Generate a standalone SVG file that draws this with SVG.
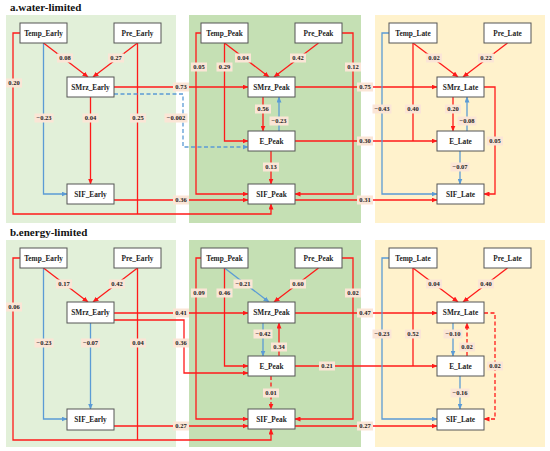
<svg xmlns="http://www.w3.org/2000/svg" width="550" height="451" viewBox="0 0 550 451">
<style>
.title{font-family:"Liberation Serif",serif;font-weight:bold;font-size:11px;fill:#111}
.node rect{fill:#fff;stroke:#555;stroke-width:1}
.node text{font-family:"Liberation Serif",serif;font-weight:bold;font-size:7.3px;fill:#222;text-anchor:middle}
.r{fill:none;stroke:#ff1a1a;stroke-width:1.3}
.b{fill:none;stroke:#5b9bd5;stroke-width:1.3}
.dash{stroke-dasharray:4 2.5}
.ra{marker-end:url(#ar)}
.ba{marker-end:url(#ab)}
.lb rect{fill:#fbe5d6}
.lb text{font-family:"Liberation Serif",serif;font-weight:bold;font-size:6.5px;fill:#222;text-anchor:middle}
</style>
<defs>
<marker id="ar" markerUnits="userSpaceOnUse" markerWidth="6" markerHeight="5" refX="5.5" refY="2.5" orient="auto"><path d="M0,0 L6,2.5 L0,5 z" fill="#ff1a1a"/></marker>
<marker id="ab" markerUnits="userSpaceOnUse" markerWidth="6" markerHeight="5" refX="5.5" refY="2.5" orient="auto"><path d="M0,0 L6,2.5 L0,5 z" fill="#5b9bd5"/></marker>
</defs>
<rect width="550" height="451" fill="#fff"/>
<g id="panels">
<rect x="6" y="15" width="170" height="208" fill="#e2f0d9"/>
<rect x="189" y="15" width="172" height="208" fill="#c5e0b4"/>
<rect x="375" y="15" width="170" height="208" fill="#fff2cc"/>
<rect x="6" y="240" width="170" height="207" fill="#e2f0d9"/>
<rect x="189" y="240" width="172" height="207" fill="#c5e0b4"/>
<rect x="375" y="240" width="170" height="207" fill="#fff2cc"/>
</g>
<text class="title" x="10" y="11">a.water-limited</text>
<text class="title" x="10" y="236">b.energy-limited</text>
<g id="connectors">
<path class="r ra" d="M20,33 H13 V214 H271 V204"/>
<path class="r" d="M137.5,43 V214"/>
<path class="b ba" d="M43.5,43 V194 H67"/>
<path class="r ra" d="M90.5,97 V184"/>
<path class="r ra" d="M43.5,43 L88,77"/>
<path class="r ra" d="M137.5,43 L93,77"/>
<path class="r ra" d="M114,87 H248"/>
<path class="b ba dash" d="M114,94 H183 V147 H248"/>
<path class="r ra" d="M114,200 H248"/>
<path class="r ra" d="M201,33 H196 V194 H248"/>
<path class="r ra" d="M224.5,43 V141 H248"/>
<path class="r ra" d="M224.5,43 L269,77"/>
<path class="r ra" d="M318.5,43 L274,77"/>
<path class="r ra" d="M342,33 H353 V194 H295"/>
<path class="r ra" d="M263,97 V131"/>
<path class="b ba" d="M279,131 V97"/>
<path class="r ra" d="M271,151 V184"/>
<path class="r ra" d="M295,87 H437"/>
<path class="r ra" d="M295,141 H437"/>
<path class="r ra" d="M295,200 H437"/>
<path class="b ba" d="M389,33 H382 V194 H437"/>
<path class="r" d="M413,43 V141"/>
<path class="r ra" d="M413,43 L458,77"/>
<path class="r ra" d="M507.5,43 L463,77"/>
<path class="r ra" d="M453,97 V131"/>
<path class="b ba" d="M467,131 V97"/>
<path class="r ra" d="M484,87 H495 V194 H484"/>
<path class="b ba" d="M460,151 V184"/>
<path class="r ra" d="M20,258 H13 V440 H271 V429"/>
<path class="r" d="M137.5,268 V440"/>
<path class="b ba" d="M43.5,268 V419 H67"/>
<path class="b ba" d="M90.5,323 V409"/>
<path class="r ra" d="M43.5,268 L88,302"/>
<path class="r ra" d="M137.5,268 L93,302"/>
<path class="r ra" d="M114,313 H248"/>
<path class="r ra" d="M114,320 H184 V373 H248"/>
<path class="r ra" d="M114,426 H248"/>
<path class="r ra" d="M201,258 H196 V419 H248"/>
<path class="r ra" d="M224.5,268 V366 H248"/>
<path class="b ba" d="M224.5,268 L269,302"/>
<path class="r ra" d="M318.5,268 L274,302"/>
<path class="r ra" d="M342,258 H353 V419 H295"/>
<path class="b ba" d="M263,323 V356"/>
<path class="r ra" d="M279,356 V323"/>
<path class="r ra dash" d="M271,376 V409"/>
<path class="r ra" d="M295,313 H437"/>
<path class="r ra" d="M295,366 H437"/>
<path class="r ra" d="M295,426 H437"/>
<path class="b ba" d="M389,258 H382 V419 H437"/>
<path class="r" d="M413,268 V366"/>
<path class="r ra" d="M413,268 L458,302"/>
<path class="r ra" d="M507.5,268 L463,302"/>
<path class="b ba" d="M453,323 V356"/>
<path class="r ra dash" d="M467,356 V323"/>
<path class="r ra dash" d="M484,313 H495 V419 H484"/>
<path class="b ba" d="M460,376 V409"/>
</g>
<g id="labels" class="lb">
<rect x="6" y="78.5" width="16" height="9"/><text x="14" y="85.3">0.20</text>
<rect x="34.5" y="113.5" width="19" height="9"/><text x="44" y="120.3">−0.23</text>
<rect x="82.5" y="113.5" width="16" height="9"/><text x="90.5" y="120.3">0.04</text>
<rect x="130" y="113.5" width="16" height="9"/><text x="138" y="120.3">0.25</text>
<rect x="57" y="53.5" width="16" height="9"/><text x="65" y="60.3">0.08</text>
<rect x="108" y="53.5" width="16" height="9"/><text x="116" y="60.3">0.27</text>
<rect x="173" y="82.5" width="16" height="9"/><text x="181" y="89.3">0.73</text>
<rect x="164.5" y="113.5" width="23" height="9"/><text x="176" y="120.3">−0.002</text>
<rect x="173" y="195.5" width="16" height="9"/><text x="181" y="202.3">0.36</text>
<rect x="191" y="62.5" width="16" height="9"/><text x="199" y="69.3">0.05</text>
<rect x="216.5" y="62.5" width="16" height="9"/><text x="224.5" y="69.3">0.29</text>
<rect x="235" y="53.5" width="16" height="9"/><text x="243" y="60.3">0.04</text>
<rect x="290" y="53.5" width="16" height="9"/><text x="298" y="60.3">0.42</text>
<rect x="345" y="62.5" width="16" height="9"/><text x="353" y="69.3">0.12</text>
<rect x="255" y="104.5" width="16" height="9"/><text x="263" y="111.3">0.56</text>
<rect x="269.5" y="116.5" width="19" height="9"/><text x="279" y="123.3">−0.23</text>
<rect x="263" y="162.5" width="16" height="9"/><text x="271" y="169.3">0.13</text>
<rect x="357" y="82.5" width="16" height="9"/><text x="365" y="89.3">0.75</text>
<rect x="357" y="136.5" width="16" height="9"/><text x="365" y="143.3">0.30</text>
<rect x="357" y="195.5" width="16" height="9"/><text x="365" y="202.3">0.31</text>
<rect x="372.5" y="104.5" width="19" height="9"/><text x="382" y="111.3">−0.43</text>
<rect x="405" y="104.5" width="16" height="9"/><text x="413" y="111.3">0.40</text>
<rect x="426" y="53.5" width="16" height="9"/><text x="434" y="60.3">0.02</text>
<rect x="478" y="53.5" width="16" height="9"/><text x="486" y="60.3">0.22</text>
<rect x="445" y="104.5" width="16" height="9"/><text x="453" y="111.3">0.20</text>
<rect x="457.5" y="116.5" width="19" height="9"/><text x="467" y="123.3">−0.08</text>
<rect x="487" y="136.5" width="16" height="9"/><text x="495" y="143.3">0.05</text>
<rect x="450.5" y="162.5" width="19" height="9"/><text x="460" y="169.3">−0.07</text>
<rect x="6" y="302.5" width="16" height="9"/><text x="14" y="309.3">0.06</text>
<rect x="34.5" y="338.5" width="19" height="9"/><text x="44" y="345.3">−0.23</text>
<rect x="81" y="338.5" width="19" height="9"/><text x="90.5" y="345.3">−0.07</text>
<rect x="130" y="338.5" width="16" height="9"/><text x="138" y="345.3">0.04</text>
<rect x="56" y="279.5" width="16" height="9"/><text x="64" y="286.3">0.17</text>
<rect x="109" y="279.5" width="16" height="9"/><text x="117" y="286.3">0.42</text>
<rect x="173" y="308.5" width="16" height="9"/><text x="181" y="315.3">0.41</text>
<rect x="173" y="338.5" width="16" height="9"/><text x="181" y="345.3">0.36</text>
<rect x="173" y="421.5" width="16" height="9"/><text x="181" y="428.3">0.27</text>
<rect x="191" y="288.5" width="16" height="9"/><text x="199" y="295.3">0.09</text>
<rect x="216.5" y="288.5" width="16" height="9"/><text x="224.5" y="295.3">0.46</text>
<rect x="233.5" y="279.5" width="19" height="9"/><text x="243" y="286.3">−0.21</text>
<rect x="290" y="279.5" width="16" height="9"/><text x="298" y="286.3">0.60</text>
<rect x="345" y="288.5" width="16" height="9"/><text x="353" y="295.3">0.02</text>
<rect x="253.5" y="329.5" width="19" height="9"/><text x="263" y="336.3">−0.42</text>
<rect x="271" y="342.5" width="16" height="9"/><text x="279" y="349.3">0.34</text>
<rect x="263" y="388.5" width="16" height="9"/><text x="271" y="395.3">0.01</text>
<rect x="319" y="361.5" width="16" height="9"/><text x="327" y="368.3">0.21</text>
<rect x="357" y="308.5" width="16" height="9"/><text x="365" y="315.3">0.47</text>
<rect x="357" y="421.5" width="16" height="9"/><text x="365" y="428.3">0.27</text>
<rect x="372.5" y="329.5" width="19" height="9"/><text x="382" y="336.3">−0.23</text>
<rect x="405" y="329.5" width="16" height="9"/><text x="413" y="336.3">0.52</text>
<rect x="426" y="279.5" width="16" height="9"/><text x="434" y="286.3">0.04</text>
<rect x="478" y="279.5" width="16" height="9"/><text x="486" y="286.3">0.40</text>
<rect x="443.5" y="329.5" width="19" height="9"/><text x="453" y="336.3">−0.10</text>
<rect x="459" y="342.5" width="16" height="9"/><text x="467" y="349.3">0.02</text>
<rect x="487" y="361.5" width="16" height="9"/><text x="495" y="368.3">0.02</text>
<rect x="450.5" y="388.5" width="19" height="9"/><text x="460" y="395.3">−0.16</text>
</g>
<g id="a_Temp_Early" class="node"><rect x="20" y="23" width="47" height="20"/><text x="43.5" y="35.5">Temp_Early</text></g>
<g id="a_Pre_Early" class="node"><rect x="114" y="23" width="47" height="20"/><text x="137.5" y="35.5">Pre_Early</text></g>
<g id="a_SMrz_Early" class="node"><rect x="67" y="77" width="47" height="20"/><text x="90.5" y="89.5">SMrz_Early</text></g>
<g id="a_SIF_Early" class="node"><rect x="67" y="184" width="47" height="20"/><text x="90.5" y="196.5">SIF_Early</text></g>
<g id="a_Temp_Peak" class="node"><rect x="201" y="23" width="47" height="20"/><text x="224.5" y="35.5">Temp_Peak</text></g>
<g id="a_Pre_Peak" class="node"><rect x="295" y="23" width="47" height="20"/><text x="318.5" y="35.5">Pre_Peak</text></g>
<g id="a_SMrz_Peak" class="node"><rect x="248" y="77" width="47" height="20"/><text x="271.5" y="89.5">SMrz_Peak</text></g>
<g id="a_E_Peak" class="node"><rect x="248" y="131" width="47" height="20"/><text x="271.5" y="143.5">E_Peak</text></g>
<g id="a_SIF_Peak" class="node"><rect x="248" y="184" width="47" height="20"/><text x="271.5" y="196.5">SIF_Peak</text></g>
<g id="a_Temp_Late" class="node"><rect x="389" y="23" width="48" height="20"/><text x="413" y="35.5">Temp_Late</text></g>
<g id="a_Pre_Late" class="node"><rect x="484" y="23" width="47" height="20"/><text x="507.5" y="35.5">Pre_Late</text></g>
<g id="a_SMrz_Late" class="node"><rect x="437" y="77" width="47" height="20"/><text x="460.5" y="89.5">SMrz_Late</text></g>
<g id="a_E_Late" class="node"><rect x="437" y="131" width="47" height="20"/><text x="460.5" y="143.5">E_Late</text></g>
<g id="a_SIF_Late" class="node"><rect x="437" y="184" width="47" height="20"/><text x="460.5" y="196.5">SIF_Late</text></g>
<g id="b_Temp_Early" class="node"><rect x="20" y="248" width="47" height="20"/><text x="43.5" y="260.5">Temp_Early</text></g>
<g id="b_Pre_Early" class="node"><rect x="114" y="248" width="47" height="20"/><text x="137.5" y="260.5">Pre_Early</text></g>
<g id="b_SMrz_Early" class="node"><rect x="67" y="302" width="47" height="21"/><text x="90.5" y="315">SMrz_Early</text></g>
<g id="b_SIF_Early" class="node"><rect x="67" y="409" width="47" height="21"/><text x="90.5" y="422">SIF_Early</text></g>
<g id="b_Temp_Peak" class="node"><rect x="201" y="248" width="47" height="20"/><text x="224.5" y="260.5">Temp_Peak</text></g>
<g id="b_Pre_Peak" class="node"><rect x="295" y="248" width="47" height="20"/><text x="318.5" y="260.5">Pre_Peak</text></g>
<g id="b_SMrz_Peak" class="node"><rect x="248" y="302" width="47" height="21"/><text x="271.5" y="315">SMrz_Peak</text></g>
<g id="b_E_Peak" class="node"><rect x="248" y="356" width="47" height="20"/><text x="271.5" y="368.5">E_Peak</text></g>
<g id="b_SIF_Peak" class="node"><rect x="248" y="409" width="47" height="20"/><text x="271.5" y="421.5">SIF_Peak</text></g>
<g id="b_Temp_Late" class="node"><rect x="389" y="248" width="48" height="20"/><text x="413" y="260.5">Temp_Late</text></g>
<g id="b_Pre_Late" class="node"><rect x="484" y="248" width="47" height="20"/><text x="507.5" y="260.5">Pre_Late</text></g>
<g id="b_SMrz_Late" class="node"><rect x="437" y="302" width="47" height="21"/><text x="460.5" y="315">SMrz_Late</text></g>
<g id="b_E_Late" class="node"><rect x="437" y="356" width="47" height="20"/><text x="460.5" y="368.5">E_Late</text></g>
<g id="b_SIF_Late" class="node"><rect x="437" y="409" width="47" height="21"/><text x="460.5" y="422">SIF_Late</text></g>
</svg>
